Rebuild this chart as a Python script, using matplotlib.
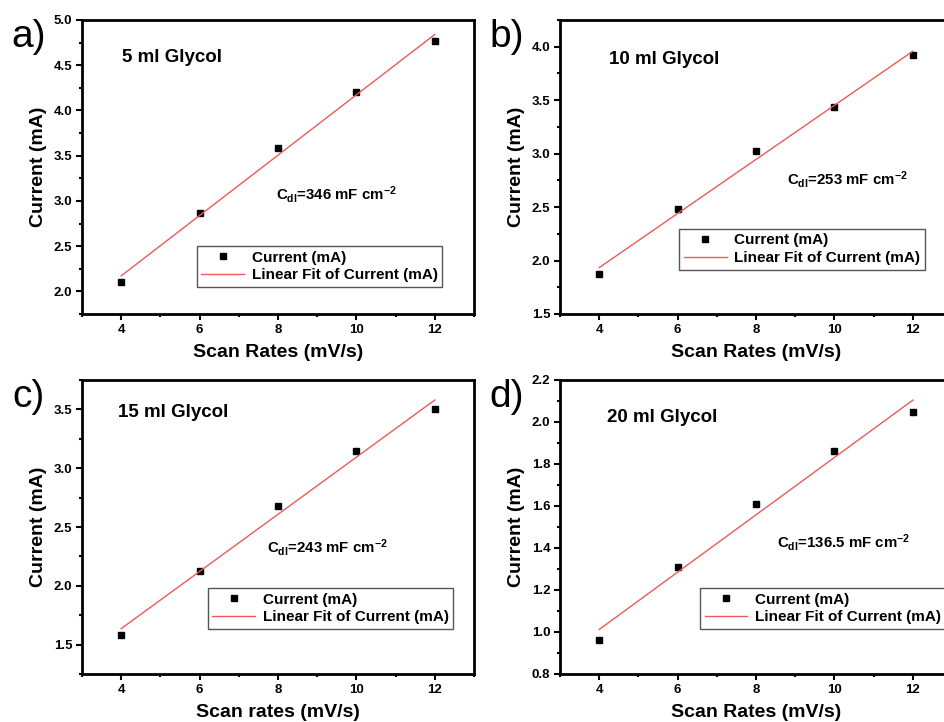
import numpy as np
import matplotlib
matplotlib.use("Agg")
import matplotlib.pyplot as plt
from matplotlib.ticker import MultipleLocator

plt.rcParams['font.family'] = ['Liberation Sans', 'DejaVu Sans']
plt.rcParams['mathtext.fontset'] = 'custom'
plt.rcParams['mathtext.rm'] = 'Liberation Sans:bold'
plt.rcParams['mathtext.it'] = 'Liberation Sans:bold'
plt.rcParams['mathtext.bf'] = 'Liberation Sans:bold'

scan_rates = [4, 6, 8, 10, 12]
current_a = [2.10, 2.87, 3.59, 4.20, 4.77]
current_b = [1.87, 2.48, 3.02, 3.44, 3.92]
current_c = [1.58, 2.13, 2.68, 3.15, 3.50]
current_d = [0.96, 1.31, 1.61, 1.86, 2.05]

panel_letters = ['a)', 'b)', 'c)', 'd)']
sample_labels = ['5 ml Glycol', '10 ml Glycol', '15 ml Glycol', '20 ml Glycol']
cdl_labels = ['346', '253', '243', '136.5']
xlabels = ['Scan Rates (mV/s)', 'Scan Rates (mV/s)', 'Scan rates (mV/s)', 'Scan Rates (mV/s)']
series = [current_a, current_b, current_c, current_d]
ylims = [(1.75, 5.0), (1.5, 4.25), (1.25, 3.75), (0.8, 2.2)]
ymajor = [0.5, 0.5, 0.5, 0.2]

W, H = 945, 722
fig = plt.figure(figsize=(W / 100, H / 100), dpi=100)

# axes boxes in pixels: left, top
boxes = [(82, 20), (560, 20), (82, 380), (560, 380)]
aw, ah = 392, 294
# text positions in axes fraction
sample_pos = [(0.102, 0.871), (0.125, 0.864), (0.092, 0.891), (0.12, 0.874)]
cdl_pos = [(0.495, 0.405), (0.579, 0.456), (0.472, 0.429), (0.554, 0.446)]
legend_pos = [(0.293, 0.092), (0.304, 0.15), (0.321, 0.153), (0.357, 0.153)]

for i in range(4):
    lx, ty = boxes[i]
    ax = fig.add_axes([lx / W, 1 - (ty + ah) / H, aw / W, ah / H])
    x = np.array(scan_rates, dtype=float)
    y = np.array(series[i])
    ax.plot(x, y, linestyle='none', marker='s', color='black', markersize=4.6,
            label='Current (mA)')
    k, b0 = np.polyfit(x, y, 1)
    ax.plot(x, k * x + b0, color='#ec5a5c', linewidth=1.0,
            label='Linear Fit of Current (mA)')
    ax.set_xlim(3, 13)
    ax.set_ylim(*ylims[i])
    ax.xaxis.set_major_locator(MultipleLocator(2))
    ax.xaxis.set_minor_locator(MultipleLocator(1))
    ax.yaxis.set_major_locator(MultipleLocator(ymajor[i]))
    ax.yaxis.set_minor_locator(MultipleLocator(ymajor[i] / 2))
    ax.set_xticks([4, 6, 8, 10, 12])
    ax.tick_params(which='major', direction='out', length=4, width=1.5,
                   labelsize=9.5, pad=3)
    ax.tick_params(which='minor', direction='out', length=2.5, width=1.5)
    for lab in ax.get_xticklabels() + ax.get_yticklabels():
        lab.set_fontweight('bold')
    for sp in ax.spines.values():
        sp.set_linewidth(2)
    ax.set_xlabel(xlabels[i], fontsize=14, fontweight='bold', labelpad=6)
    ax.set_ylabel('Current (mA)', fontsize=14, fontweight='bold', labelpad=5)
    ax.text(*sample_pos[i], sample_labels[i], transform=ax.transAxes,
            fontsize=13.5, fontweight='bold', va='center', ha='left')
    ax.text(*cdl_pos[i], 'C$_{dl}$=' + cdl_labels[i] + ' mF cm$^{-2}$',
            transform=ax.transAxes, fontsize=10.8, fontweight='bold',
            va='center', ha='left')
    leg = ax.legend(loc='lower left', bbox_to_anchor=legend_pos[i],
                    fancybox=False, edgecolor='#555555', framealpha=1,
                    prop={'weight': 'bold', 'size': 11}, handlelength=2.8,
                    borderpad=0.3, labelspacing=0.25, handletextpad=0.5,
                    borderaxespad=0)
    leg.get_frame().set_linewidth(1.0)
    fig.text((lx - 53) / W, 1 - (ty + 17) / H, panel_letters[i], fontsize=28,
             va='center', ha='center')

fig.savefig('out.png', dpi=100)
